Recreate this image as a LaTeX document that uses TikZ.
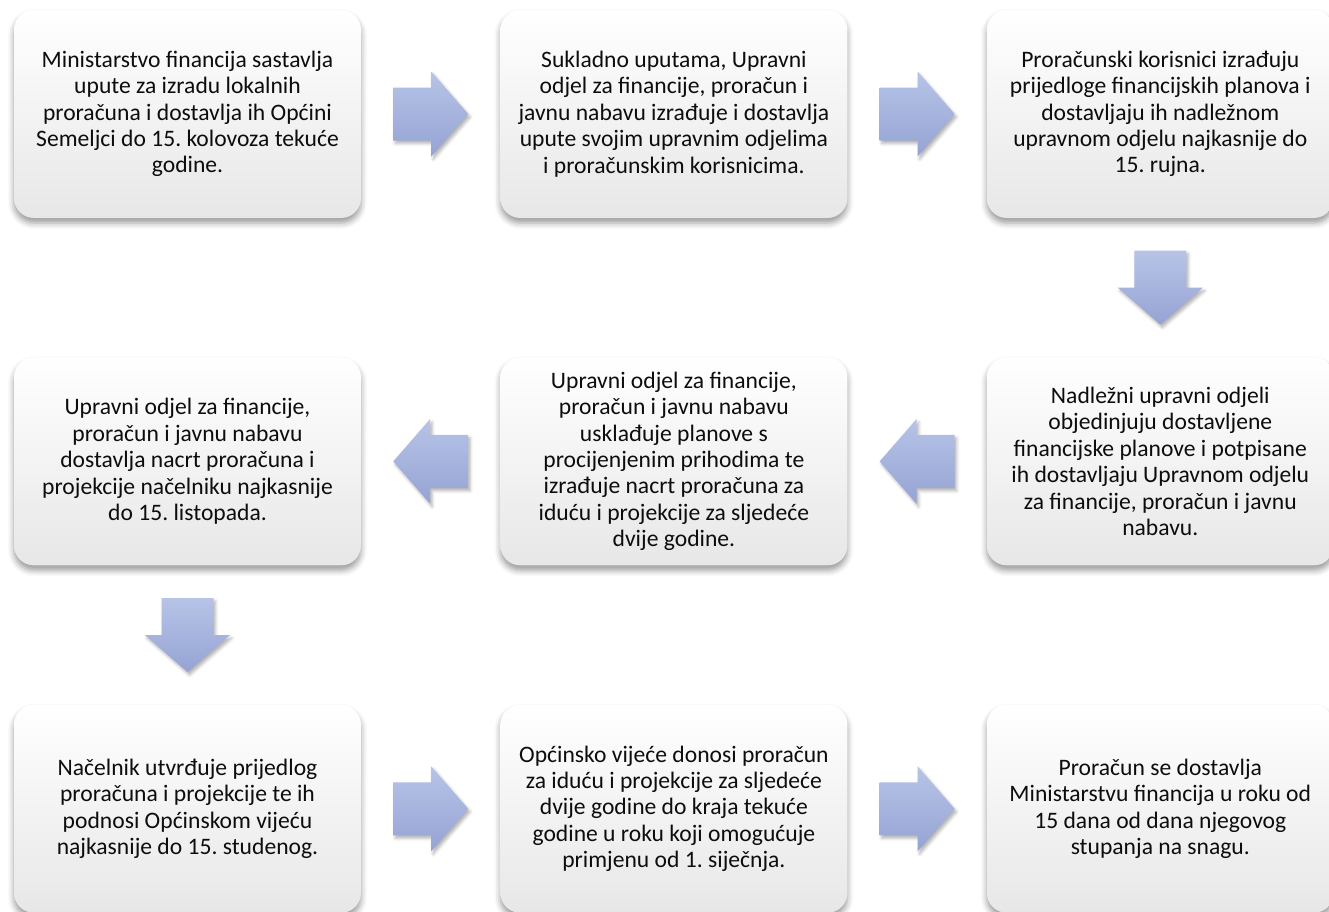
\documentclass[tikz,border=0pt]{standalone}
\usepackage{fontspec}
\setmainfont{Carlito}
\usetikzlibrary{positioning,calc,shadows.blur}
\definecolor{arrowtop}{RGB}{183,196,231}
\definecolor{arrowbot}{RGB}{149,163,212}
\definecolor{boxbot}{RGB}{231,231,231}
\frenchspacing

\begin{document}
\begin{tikzpicture}[x=1pt,y=-1pt,node distance=139pt]
			\tikzset{stepbox/.style={rectangle,rounded corners=20pt,minimum width=347pt,minimum height=208pt,align=center,
					font=\fontsize{23.6}{26.4}\selectfont,text=black!95,
					top color=white,middle color=white,bottom color=boxbot,
					blur shadow={shadow xshift=0pt,shadow yshift=-5pt,shadow blur radius=6pt,shadow opacity=40}},
				blockarrow/.style={top color=arrowtop,bottom color=arrowbot,
					blur shadow={shadow xshift=2pt,shadow yshift=-3pt,shadow blur radius=3pt,shadow opacity=30}},
				rarrow/.pic={\path[blockarrow] (-37.5,-26.5) -- (0.5,-26.5) -- (0.5,-42.5) -- (37.5,0) -- (0.5,42.5) -- (0.5,26.5) -- (-37.5,26.5) -- cycle;},
				larrow/.pic={\path[blockarrow] (37.5,-26.5) -- (-0.5,-26.5) -- (-0.5,-42.5) -- (-37.5,0) -- (-0.5,42.5) -- (-0.5,26.5) -- (37.5,26.5) -- cycle;},
				darrow/.pic={\path[blockarrow] (-26,-37) -- (26,-37) -- (26,0) -- (42.5,0) -- (0,37) -- (-42.5,0) -- (-26,0) -- cycle;}}
			\useasboundingbox (0,0) rectangle (1329,911);
			% first row, left to right
			\node[stepbox] (b1) at (187.5,114) {Ministarstvo financija sastavlja\\upute za izradu lokalnih\\proračuna i dostavlja ih Općini\\Semeljci do 15. kolovoza tekuće\\godine.};
			\node[stepbox,right=of b1] (b2) {Sukladno uputama, Upravni\\odjel za financije, proračun i\\javnu nabavu izrađuje i dostavlja\\upute svojim upravnim odjelima\\i proračunskim korisnicima.};
			\node[stepbox,right=of b2] (b3) {Proračunski korisnici izrađuju\\prijedloge financijskih planova i\\dostavljaju ih nadležnom\\upravnom odjelu najkasnije do\\15. rujna.};
			% second row, right to left
			\node[stepbox,below=of b3] (b4) {Nadležni upravni odjeli\\objedinjuju dostavljene\\financijske planove i potpisane\\ih dostavljaju Upravnom odjelu\\za financije, proračun i javnu\\nabavu.};
			\node[stepbox,left=of b4] (b5) {Upravni odjel za financije,\\proračun i javnu nabavu\\usklađuje planove s\\procijenjenim prihodima te\\izrađuje nacrt proračuna za\\iduću i projekcije za sljedeće\\dvije godine.};
			\node[stepbox,left=of b5] (b6) {Upravni odjel za financije,\\proračun i javnu nabavu\\dostavlja nacrt proračuna i\\projekcije načelniku najkasnije\\do 15. listopada.};
			% third row, left to right
			\node[stepbox,below=of b6] (b7) {Načelnik utvrđuje prijedlog\\proračuna i projekcije te ih\\podnosi Općinskom vijeću\\najkasnije do 15. studenog.};
			\node[stepbox,right=of b7] (b8) {Općinsko vijeće donosi proračun\\za iduću i projekcije za sljedeće\\dvije godine do kraja tekuće\\godine u roku koji omogućuje\\primjenu od 1. siječnja.};
			\node[stepbox,right=of b8] (b9) {Proračun se dostavlja\\Ministarstvu financija u roku od\\15 dana od dana njegovog\\stupanja na snagu.};
			% arrows in the gaps
			\pic (a12) at ($(b1.east)!.5!(b2.west)$) {rarrow};
			\pic (a23) at ($(b2.east)!.5!(b3.west)$) {rarrow};
			\pic (a34) at ($(b3.south)!.5!(b4.north)$) {darrow};
			\pic (a45) at ($(b4.west)!.5!(b5.east)$) {larrow};
			\pic (a56) at ($(b5.west)!.5!(b6.east)$) {larrow};
			\pic (a67) at ($(b6.south)!.5!(b7.north)$) {darrow};
			\pic (a78) at ($(b7.east)!.5!(b8.west)$) {rarrow};
			\pic (a89) at ($(b8.east)!.5!(b9.west)$) {rarrow};
		\end{tikzpicture}
\end{document}
